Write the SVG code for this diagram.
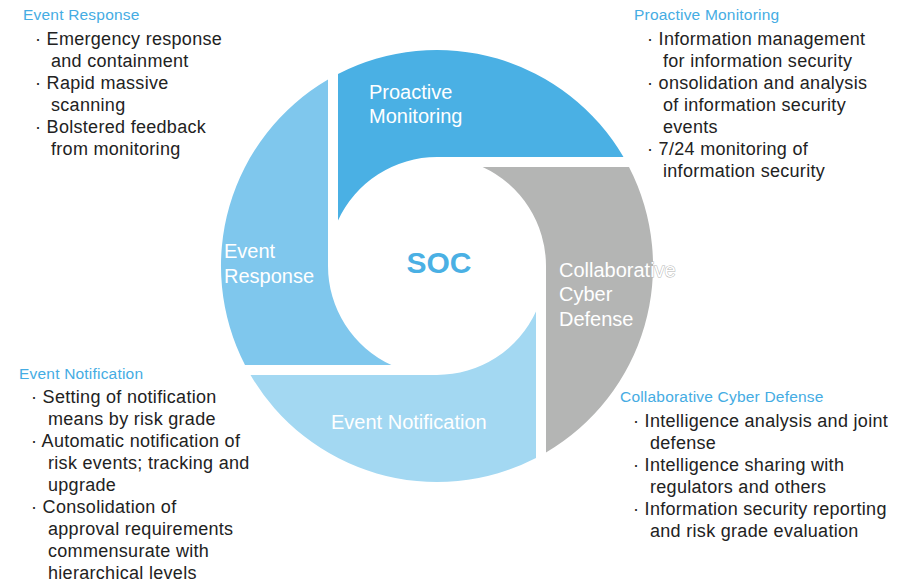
<svg xmlns="http://www.w3.org/2000/svg" width="906" height="583" viewBox="0 0 906 583">
<style>
.seg-label{font-family:"Liberation Sans",Arial,sans-serif;font-size:20px;fill:#ffffff}
.hdr{font-family:"Liberation Sans",Arial,sans-serif;font-size:15.5px;fill:#45ACE3;letter-spacing:0.2px}
.body{font-family:"Liberation Sans",Arial,sans-serif;font-size:18px;fill:#222222;letter-spacing:0.3px}
</style>
<rect x="0" y="0" width="906" height="583" fill="#ffffff"/>
<g id="proactive-monitoring">
<path d="M338,220.4 A109,109 0 0 1 437,157 L623.5,157 A216,216 0 0 0 338,74 Z" fill="#4AB0E4"/>
<text class="seg-label" x="369" y="99">Proactive</text>
<text class="seg-label" x="369" y="123">Monitoring</text>
</g>
<g id="collaborative-cyber-defense">
<path d="M482.6,167 A109,109 0 0 1 546,266 L546,452.5 A216,216 0 0 0 629,167 Z" fill="#B4B5B4"/>
<text class="seg-label" x="559" y="277" stroke="#B4B5B4" stroke-width="1" paint-order="stroke">Collaborative</text>
<text class="seg-label" x="559" y="301">Cyber</text>
<text class="seg-label" x="559" y="326">Defense</text>
</g>
<g id="event-notification">
<path d="M536,311.6 A109,109 0 0 1 437,375 L250.5,375 A216,216 0 0 0 536,458 Z" fill="#A3D8F2"/>
<text class="seg-label" x="331" y="429">Event Notification</text>
</g>
<g id="event-response">
<path d="M391.4,365 A109,109 0 0 1 328,266 L328,79.5 A216,216 0 0 0 245,365 Z" fill="#7FC7ED"/>
<text class="seg-label" x="224" y="258">Event</text>
<text class="seg-label" x="224" y="283">Response</text>
</g>
<g id="soc">
<text x="439" y="273" text-anchor="middle" font-family="Liberation Sans,Arial,sans-serif" font-weight="bold" font-size="30" fill="#4AB0E4">SOC</text>
</g>
<g id="connectors"></g>
<g id="event-response-notes">
<text class="hdr" x="23" y="20">Event Response</text>
<text class="body" x="35" y="45">· Emergency response</text>
<text class="body" x="51" y="67">and containment</text>
<text class="body" x="35" y="89">· Rapid massive</text>
<text class="body" x="51" y="111">scanning</text>
<text class="body" x="35" y="133">· Bolstered feedback</text>
<text class="body" x="51" y="155">from monitoring</text>
</g>
<g id="proactive-monitoring-notes">
<text class="hdr" x="634" y="20">Proactive Monitoring</text>
<text class="body" x="647" y="45">· Information management</text>
<text class="body" x="663" y="67">for information security</text>
<text class="body" x="647" y="89">· onsolidation and analysis</text>
<text class="body" x="663" y="111">of information security</text>
<text class="body" x="663" y="133">events</text>
<text class="body" x="647" y="155">· 7/24 monitoring of</text>
<text class="body" x="663" y="177">information security</text>
</g>
<g id="event-notification-notes">
<text class="hdr" x="19" y="379">Event Notification</text>
<text class="body" x="31" y="403">· Setting of notification</text>
<text class="body" x="48" y="425">means by risk grade</text>
<text class="body" x="31" y="447">· Automatic notification of</text>
<text class="body" x="48" y="469">risk events; tracking and</text>
<text class="body" x="48" y="491">upgrade</text>
<text class="body" x="31" y="513">· Consolidation of</text>
<text class="body" x="48" y="535">approval requirements</text>
<text class="body" x="48" y="557">commensurate with</text>
<text class="body" x="48" y="579">hierarchical levels</text>
</g>
<g id="collaborative-cyber-defense-notes">
<text class="hdr" x="620" y="402">Collaborative Cyber Defense</text>
<text class="body" x="633" y="427">· Intelligence analysis and joint</text>
<text class="body" x="650" y="449">defense</text>
<text class="body" x="633" y="471">· Intelligence sharing with</text>
<text class="body" x="650" y="493">regulators and others</text>
<text class="body" x="633" y="515">· Information security reporting</text>
<text class="body" x="650" y="537">and risk grade evaluation</text>
</g>
</svg>
